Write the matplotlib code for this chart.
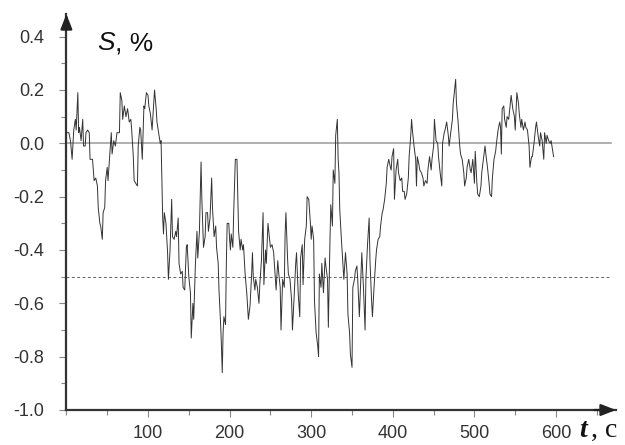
import matplotlib
matplotlib.use("Agg")
from matplotlib import pyplot as plt
from matplotlib.ticker import MultipleLocator, FormatStrFormatter

# time, s
t_sec = [1, 3, 5, 7, 9, 11, 12, 14, 15, 16, 18, 20, 21, 23, 24, 26, 28, 29, 32, 34,
         36, 38, 39, 41, 42, 44, 45, 47, 48, 50, 51, 53, 55, 56, 58, 60, 62, 65, 66, 68,
         69, 71, 73, 75, 77, 79, 80, 82, 83, 85, 87, 88, 90, 91, 93, 95, 96, 98, 100, 101,
         103, 105, 107, 108, 110, 111, 113, 115, 116, 117, 118, 119, 120, 122, 124, 125, 127, 129, 130, 132,
         134, 135, 137, 138, 140, 142, 143, 145, 147, 148, 150, 152, 153, 155, 156, 158, 160, 161, 163, 165,
         166, 168, 170, 171, 173, 174, 176, 178, 179, 181, 183, 184, 186, 187, 189, 190, 191, 192, 193, 195,
         196, 197, 199, 200, 201, 202, 204, 205, 207, 209, 210, 211, 213, 214, 216, 217, 219, 221, 223, 225,
         227, 228, 229, 231, 232, 234, 236, 237, 239, 241, 242, 244, 245, 247, 249, 250, 252, 254, 255, 257,
         259, 260, 262, 263, 265, 267, 268, 269, 271, 272, 274, 276, 277, 279, 281, 282, 284, 286, 287, 289,
         290, 292, 294, 295, 297, 299, 300, 301, 303, 304, 306, 308, 309, 310, 312, 313, 315, 317, 318, 320,
         321, 323, 324, 326, 327, 329, 330, 332, 333, 334, 335, 337, 339, 340, 342, 344, 345, 347, 348, 350,
         351, 353, 354, 356, 357, 359, 361, 362, 364, 366, 367, 369, 371, 372, 374, 375, 377, 379, 380, 382,
         384, 385, 387, 388, 390, 392, 393, 395, 397, 398, 399, 401, 402, 404, 406, 407, 409, 411, 412, 414,
         415, 417, 419, 420, 422, 423, 424, 426, 428, 429, 430, 432, 433, 435, 437, 438, 440, 442, 443, 445,
         447, 448, 450, 451, 453, 455, 456, 458, 460, 461, 463, 464, 466, 468, 469, 471, 473, 474, 476, 477,
         478, 480, 482, 483, 485, 487, 488, 490, 491, 493, 495, 496, 498, 500, 501, 503, 504, 506, 508, 509,
         511, 513, 514, 516, 518, 519, 521, 522, 524, 526, 527, 529, 531, 532, 533, 534, 536, 537, 539, 540,
         542, 544, 545, 547, 549, 550, 552, 554, 555, 557, 558, 560, 562, 563, 565, 567, 568, 570, 571, 573,
         575, 576, 578, 580, 581, 583, 585, 586, 588, 589, 591, 593, 594, 596, 597]

# S, %
s_pct = [0.04, 0.04, 0.01, -0.06, 0.05, 0.09, 0.05, 0.19, 0.04, 0.06, 0.01, 0.09, -0.01, -0.01, 0.04, 0.05, 0.04, -0.06, -0.06, -0.14,
         -0.13, -0.16, -0.24, -0.30, -0.31, -0.36, -0.26, -0.24, -0.14, -0.09, -0.14, -0.05, 0.04, -0.04, 0.01, -0.01, 0.04, 0.04, 0.19, 0.16,
         0.09, 0.14, 0.10, 0.13, 0.08, 0.09, 0.05, -0.05, -0.14, -0.15, -0.16, -0.01, 0.06, 0.05, -0.06, 0.14, 0.13, 0.19, 0.18, 0.14,
         0.11, 0.05, 0.15, 0.20, 0.13, 0.08, 0.04, 0.00, 0.01, -0.14, -0.28, -0.34, -0.26, -0.30, -0.41, -0.51, -0.40, -0.21, -0.35, -0.36,
         -0.33, -0.35, -0.28, -0.45, -0.49, -0.48, -0.54, -0.55, -0.39, -0.38, -0.50, -0.56, -0.73, -0.60, -0.66, -0.46, -0.33, -0.43, -0.33, -0.07,
         -0.21, -0.39, -0.35, -0.26, -0.26, -0.33, -0.28, -0.13, -0.24, -0.35, -0.31, -0.39, -0.45, -0.55, -0.68, -0.76, -0.86, -0.71, -0.65, -0.68,
         -0.45, -0.30, -0.30, -0.36, -0.40, -0.34, -0.39, -0.26, -0.06, -0.06, -0.19, -0.33, -0.40, -0.36, -0.40, -0.38, -0.49, -0.56, -0.66, -0.61,
         -0.49, -0.41, -0.50, -0.55, -0.51, -0.54, -0.60, -0.53, -0.44, -0.26, -0.53, -0.40, -0.45, -0.30, -0.36, -0.39, -0.38, -0.41, -0.46, -0.55,
         -0.44, -0.48, -0.54, -0.70, -0.51, -0.54, -0.34, -0.26, -0.43, -0.49, -0.51, -0.59, -0.70, -0.58, -0.45, -0.41, -0.56, -0.65, -0.43, -0.38,
         -0.53, -0.36, -0.31, -0.20, -0.21, -0.30, -0.36, -0.31, -0.36, -0.59, -0.71, -0.76, -0.80, -0.49, -0.54, -0.45, -0.56, -0.43, -0.46, -0.51,
         -0.69, -0.36, -0.23, -0.31, -0.10, -0.15, 0.03, 0.09, -0.06, -0.11, -0.25, -0.36, -0.46, -0.51, -0.41, -0.49, -0.64, -0.71, -0.79, -0.84,
         -0.54, -0.51, -0.48, -0.46, -0.51, -0.65, -0.49, -0.41, -0.54, -0.70, -0.51, -0.38, -0.28, -0.44, -0.59, -0.65, -0.54, -0.44, -0.40, -0.36,
         -0.35, -0.31, -0.26, -0.25, -0.21, -0.15, -0.09, -0.06, -0.09, -0.10, -0.05, -0.02, -0.21, -0.10, -0.06, -0.11, -0.14, -0.13, -0.18, -0.18,
         -0.21, -0.19, -0.13, -0.05, 0.03, 0.09, 0.05, -0.01, -0.06, -0.16, -0.05, -0.08, -0.10, -0.11, -0.13, -0.16, -0.14, -0.15, -0.10, -0.05,
         -0.10, -0.06, -0.01, 0.09, 0.01, 0.00, -0.05, -0.11, -0.16, 0.00, 0.04, 0.05, 0.08, 0.03, -0.01, 0.04, 0.09, 0.15, 0.21, 0.24,
         0.15, 0.08, -0.01, -0.04, -0.06, -0.11, -0.16, -0.13, -0.09, -0.06, -0.10, -0.11, -0.06, -0.15, -0.03, -0.15, -0.19, -0.20, -0.16, -0.11,
         -0.06, -0.01, -0.04, -0.09, -0.15, -0.19, -0.20, -0.13, -0.06, -0.03, 0.00, 0.05, 0.08, 0.06, -0.04, 0.13, 0.14, 0.09, 0.06, 0.10,
         0.09, 0.15, 0.18, 0.13, 0.10, 0.05, 0.19, 0.15, 0.11, 0.06, 0.09, 0.05, 0.08, 0.06, 0.05, -0.01, -0.09, -0.05, -0.05, 0.00,
         0.06, 0.08, 0.03, -0.01, 0.04, 0.01, -0.06, 0.04, 0.00, 0.03, 0.01, 0.00, 0.01, -0.03, -0.05]

x_ticks = [100, 200, 300, 400, 500, 600]
y_ticks = [-1.0, -0.8, -0.6, -0.4, -0.2, 0.0, 0.2, 0.4]
zero_level = 0.0
limit_level = -0.5

plt.rcParams['font.family'] = ['Liberation Sans', 'DejaVu Sans']
plt.rcParams['axes.unicode_minus'] = False

fig = plt.figure(figsize=(6.25, 4.45), dpi=100)
ax = fig.add_axes([66.4 / 625, 35 / 445, (616 - 66.4) / 625, (410 - 14) / 445])

ax.axhline(zero_level, xmax=0.99, color='#9a9a9a', lw=1.1, zorder=1)
ax.axhline(limit_level, xmax=0.99, color='#666666', lw=0.7, dashes=(3, 2.5), zorder=1)
ax.plot(t_sec, s_pct, color='#333333', lw=0.7, zorder=2)

ax.set_xlim(0, 673.5)
ax.set_ylim(-1.0, 0.485)

ax.set_xticks(x_ticks)
ax.set_yticks(y_ticks)
ax.xaxis.set_minor_locator(MultipleLocator(50))
ax.yaxis.set_minor_locator(MultipleLocator(0.1))
ax.yaxis.set_major_formatter(FormatStrFormatter('%.1f'))
ax.tick_params(which='major', length=5, width=0.8, color='#888888',
               labelsize=13, labelcolor='#333333')
ax.tick_params(axis='y', which='major', pad=11)
ax.tick_params(axis='x', which='major', pad=6)
ax.tick_params(which='minor', length=3.5, width=0.8, color='#888888')

for side in ['top', 'right']:
    ax.spines[side].set_visible(False)
for side in ['left', 'bottom']:
    ax.spines[side].set_color('#333333')
    ax.spines[side].set_linewidth(1.6)

# arrow heads on axes
arrow = dict(arrowstyle='-|>,head_length=0.9,head_width=0.35', color='#222222',
             lw=1.6, shrinkA=0, shrinkB=0)
ax.annotate('', xy=(1, 0), xytext=(0.96, 0), xycoords='axes fraction', arrowprops=arrow)
ax.annotate('', xy=(0, 1), xytext=(0, 0.96), xycoords='axes fraction', arrowprops=arrow)

# axis names
fig.text(97 / 625, 1 - 50 / 445, 'S', fontsize=19, style='italic', color='#111111')
fig.text(115 / 625, 1 - 50 / 445, ', %', fontsize=19, color='#111111')
fig.text(579 / 625, 1 - 437 / 445, 't', fontsize=20, style='italic', weight='bold',
         family='Liberation Serif', color='#111111')
fig.text(591 / 625, 1 - 437 / 445, ', c', fontsize=20, family='Liberation Serif',
         color='#111111')

fig.savefig('out.png', dpi=100)
